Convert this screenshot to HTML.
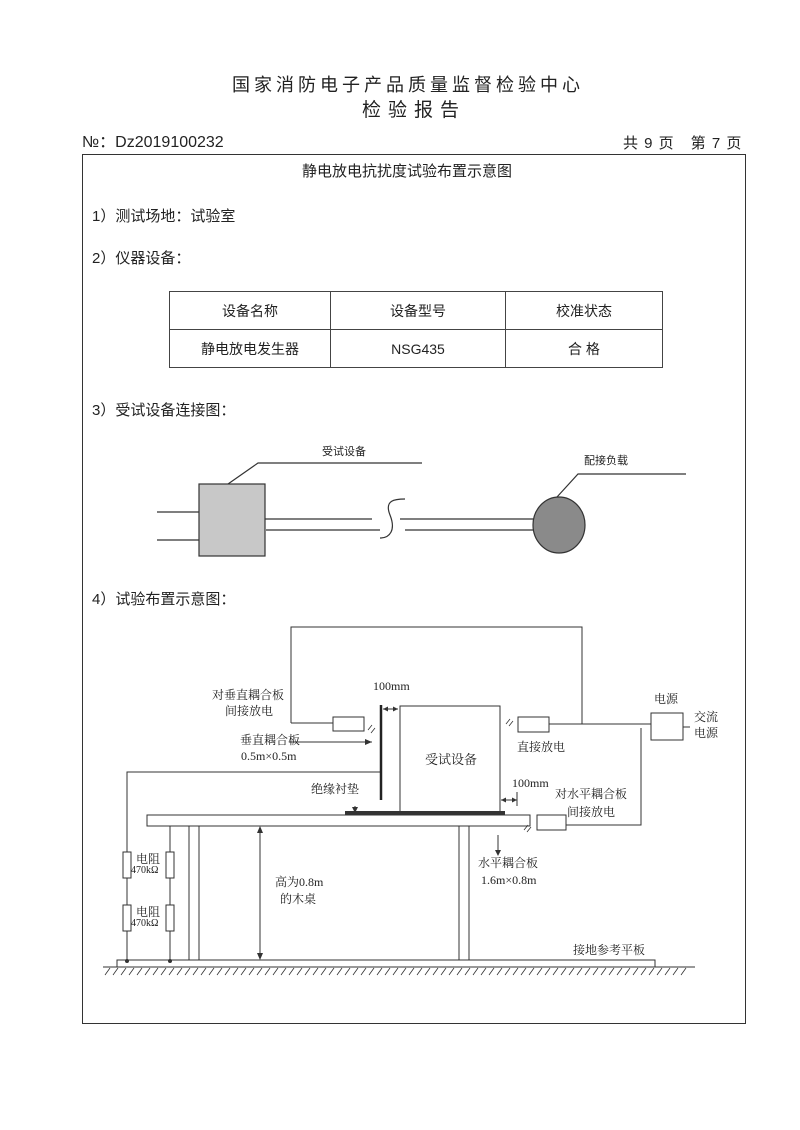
<!DOCTYPE html>
<html><head><meta charset="utf-8"><style>
body{margin:0;background:#fff;}
#p{position:relative;width:800px;height:1130px;overflow:hidden;background:#fff;font-family:"Liberation Sans","Noto Sans CJK SC",sans-serif;color:#222;}
.t{position:absolute;white-space:nowrap;line-height:1;}
.s{font-family:"Liberation Serif","Noto Serif CJK SC",serif;font-size:12px;}
table{position:absolute;left:169px;top:291px;border-collapse:collapse;font-size:14px;}
td{border:1px solid #444;text-align:center;height:37px;padding:0;}
</style></head><body><div id="p">
<div class="t" style="left:232px;top:76px;font-size:18px;letter-spacing:4px;">国家消防电子产品质量监督检验中心</div>
<div class="t" style="left:362px;top:101px;font-size:19px;letter-spacing:7px;">检验报告</div>
<div class="t" style="left:82px;top:135px;font-size:16px;">№：Dz2019100232</div>
<div class="t" style="left:623px;top:136px;font-size:15px;letter-spacing:1px;">共 9 页　第 7 页</div>
<div style="position:absolute;left:82px;top:154px;width:662px;height:868px;border:1.5px solid #333;"></div>
<div class="t" style="left:302px;top:164px;font-size:15px;">静电放电抗扰度试验布置示意图</div>
<div class="t" style="left:92px;top:209px;font-size:15px;">1）测试场地：试验室</div>
<div class="t" style="left:92px;top:251px;font-size:15px;">2）仪器设备：</div>
<table><tr><td style="width:160px">设备名称</td><td style="width:174px">设备型号</td><td style="width:156px">校准状态</td></tr>
<tr><td>静电放电发生器</td><td>NSG435</td><td>合 格</td></tr></table>
<div class="t" style="left:92px;top:403px;font-size:15px;">3）受试设备连接图：</div>
<div class="t" style="left:92px;top:592px;font-size:15px;">4）试验布置示意图：</div>
<div class="t" style="left:322px;top:447px;font-size:11px;">受试设备</div>
<div class="t" style="left:584px;top:456px;font-size:11px;">配接负载</div>
<svg style="position:absolute;left:0;top:0" width="800" height="1130">
<g stroke="#333" stroke-width="1.2" fill="none">
<rect x="199" y="484" width="66" height="72" fill="#c8c8c8"/>
<path d="M157 512H199M157 540H199M265 519H372M266 530H380M400 519H537M405 530H537"/>
<path d="M405 499C395 499 384 500 390 515C396 530 390 538 380 538"/>
<path d="M228 484L258 463H422M557 497L578 474H686"/>
<ellipse cx="559" cy="525" rx="26" ry="28" fill="#8a8a8a"/>
</g>
<g stroke="#333" stroke-width="1" fill="none">
<path d="M291 723V627H582V724"/>
<path d="M291 723H333M549 724H651M683 727H690"/>
<rect x="333" y="717" width="31" height="14"/>
<rect x="518" y="717" width="31" height="15"/>
<rect x="651" y="713" width="32" height="27"/>
<rect x="400" y="706" width="100" height="106"/>
<path d="M641 728V825H566"/>
<rect x="537" y="815" width="29" height="15"/>
<rect x="147" y="815" width="383" height="11"/>
<rect x="189" y="826" width="10" height="134"/>
<rect x="459" y="826" width="10" height="134"/>
<rect x="117" y="960" width="538" height="7"/>
<path d="M127 961V772H381M170 961V826"/>
<rect x="123" y="852" width="8" height="26" fill="#fff"/><rect x="166" y="852" width="8" height="26" fill="#fff"/>
<rect x="123" y="905" width="8" height="26" fill="#fff"/><rect x="166" y="905" width="8" height="26" fill="#fff"/>
<path d="M260 828V958M103 967H695"/>
<path d="M383 709H398M501 800H517M517 792V806"/>
<path d="M289 742H372M355 806V811M498 835V852"/>
</g>
<path d="M381 705V800" stroke="#222" stroke-width="2.5"/>
<rect x="345" y="811" width="160" height="4" fill="#333"/>
<g fill="#333">
<path d="M260 826l-3 7h6zM260 960l-3 -7h6zM372 742l-7 -3v6zM355 813l-3 -6h6zM498 856l-3 -6h6z"/>
<path d="M383 709l5 -2.5v5zM398 709l-5 -2.5v5zM501 800l5 -2.5v5zM517 800l-5 -2.5v5z"/>
<circle cx="127" cy="961" r="2"/><circle cx="170" cy="961" r="2"/>
</g>
<g stroke="#333" stroke-width="0.8">
<path d="M368 730l4 -5M371 733l4 -5M506 724l4 -5M509 726l4 -5M524 830l4 -5M527 832l4 -5"/>
<path d="M105 975l5 -7M113 975l5 -7M121 975l5 -7M129 975l5 -7M137 975l5 -7M145 975l5 -7M153 975l5 -7M161 975l5 -7M169 975l5 -7M177 975l5 -7M185 975l5 -7M193 975l5 -7M201 975l5 -7M209 975l5 -7M217 975l5 -7M225 975l5 -7M233 975l5 -7M241 975l5 -7M249 975l5 -7M257 975l5 -7M265 975l5 -7M273 975l5 -7M281 975l5 -7M289 975l5 -7M297 975l5 -7M305 975l5 -7M313 975l5 -7M321 975l5 -7M329 975l5 -7M337 975l5 -7M345 975l5 -7M353 975l5 -7M361 975l5 -7M369 975l5 -7M377 975l5 -7M385 975l5 -7M393 975l5 -7M401 975l5 -7M409 975l5 -7M417 975l5 -7M425 975l5 -7M433 975l5 -7M441 975l5 -7M449 975l5 -7M457 975l5 -7M465 975l5 -7M473 975l5 -7M481 975l5 -7M489 975l5 -7M497 975l5 -7M505 975l5 -7M513 975l5 -7M521 975l5 -7M529 975l5 -7M537 975l5 -7M545 975l5 -7M553 975l5 -7M561 975l5 -7M569 975l5 -7M577 975l5 -7M585 975l5 -7M593 975l5 -7M601 975l5 -7M609 975l5 -7M617 975l5 -7M625 975l5 -7M633 975l5 -7M641 975l5 -7M649 975l5 -7M657 975l5 -7M665 975l5 -7M673 975l5 -7M681 975l5 -7"/>
</g>
</svg>
<div class="t s" style="left:373px;top:680px;">100mm</div>
<div class="t s" style="left:212px;top:689px;">对垂直耦合板</div>
<div class="t s" style="left:225px;top:705px;">间接放电</div>
<div class="t s" style="left:240px;top:734px;">垂直耦合板</div>
<div class="t s" style="left:241px;top:750px;">0.5m×0.5m</div>
<div class="t s" style="left:425px;top:753px;font-size:13px;">受试设备</div>
<div class="t s" style="left:517px;top:741px;">直接放电</div>
<div class="t s" style="left:654px;top:693px;">电源</div>
<div class="t s" style="left:694px;top:711px;">交流</div>
<div class="t s" style="left:694px;top:727px;">电源</div>
<div class="t s" style="left:512px;top:777px;">100mm</div>
<div class="t s" style="left:555px;top:788px;">对水平耦合板</div>
<div class="t s" style="left:567px;top:806px;">间接放电</div>
<div class="t s" style="left:311px;top:783px;">绝缘衬垫</div>
<div class="t s" style="left:478px;top:857px;">水平耦合板</div>
<div class="t s" style="left:481px;top:874px;">1.6m×0.8m</div>
<div class="t s" style="left:275px;top:876px;">高为0.8m</div>
<div class="t s" style="left:280px;top:893px;">的木桌</div>
<div class="t s" style="left:136px;top:853px;">电阻</div>
<div class="t s" style="left:131px;top:866px;font-size:10px;">470kΩ</div>
<div class="t s" style="left:136px;top:906px;">电阻</div>
<div class="t s" style="left:131px;top:919px;font-size:10px;">470kΩ</div>
<div class="t s" style="left:573px;top:944px;">接地参考平板</div>
</div></body></html>
